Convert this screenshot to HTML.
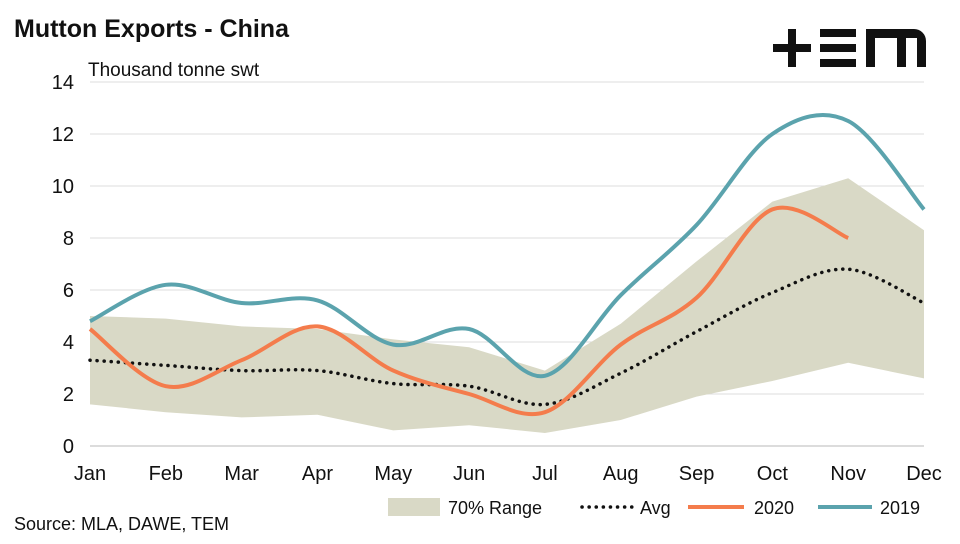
<!DOCTYPE html>
<html><head><meta charset="utf-8"><style>
body{margin:0;background:#fff;font-family:"Liberation Sans",sans-serif;}
svg text{font-family:"Liberation Sans",sans-serif;}
</style></head><body>
<svg id="c" width="960" height="539">
<text x="14" y="37" font-size="25" font-weight="bold" fill="#111">Mutton Exports - China</text>
<text x="88" y="76" font-size="19" fill="#111">Thousand tonne swt</text>
<g fill="#111">
<rect x="773" y="44" width="38" height="8"/><rect x="788" y="29" width="8" height="38"/>
<rect x="820" y="29" width="36" height="8"/><rect x="820" y="44" width="36" height="8"/><rect x="820" y="59" width="36" height="8"/>
<path d="M866 67V29h48a12 12 0 0 1 12 12v26h-9V38h-11v29h-9V38h-22v29z"/>
</g>
<g id="grid"></g><g id="marks"></g><g id="axes"></g>
<g font-size="18" fill="#111">
<rect x="388" y="498" width="52" height="18" fill="#d9d9c6"/>
<text x="448" y="514">70% Range</text>
<line x1="582" y1="507" x2="636" y2="507" stroke="#111" stroke-width="3.5" stroke-dasharray="0.1 7" stroke-linecap="round"/>
<text x="640" y="514">Avg</text>
<line x1="688" y1="507" x2="744" y2="507" stroke="#f47c4c" stroke-width="4"/>
<text x="754" y="514">2020</text>
<line x1="818" y1="507" x2="872" y2="507" stroke="#5ba3ad" stroke-width="4"/>
<text x="880" y="514">2019</text>
</g>
<text x="14" y="530" font-size="18" fill="#111">Source: MLA, DAWE, TEM</text>
</svg>
<script>
const months=["Jan","Feb","Mar","Apr","May","Jun","Jul","Aug","Sep","Oct","Nov","Dec"];
const yTicks=[0,2,4,6,8,10,12,14];
const rangeHigh=[5.0,4.9,4.6,4.5,4.1,3.8,2.9,4.7,7.1,9.4,10.3,8.3];
const rangeLow=[1.6,1.3,1.1,1.2,0.6,0.8,0.5,1.0,1.9,2.5,3.2,2.6];
const avg=[3.3,3.1,2.9,2.9,2.4,2.3,1.6,2.8,4.4,5.9,6.8,5.5];
const s2020=[4.5,2.3,3.3,4.6,2.9,2.0,1.3,3.9,5.7,9.1,8.0];
const s2019=[4.8,6.2,5.5,5.6,3.9,4.5,2.7,5.8,8.5,12.0,12.5,9.1];
const X0=90,X1=924,Y0=446,Y1=82;
const x=i=>X0+i*(X1-X0)/11;
const y=v=>Y0-v*(Y0-Y1)/14;
const NS="http://www.w3.org/2000/svg";
function mk(tag,attrs,parent){const e=document.createElementNS(NS,tag);for(const k in attrs)e.setAttribute(k,attrs[k]);parent.appendChild(e);return e;}
const grid=document.getElementById('grid'),marks=document.getElementById('marks'),axes=document.getElementById('axes');
yTicks.forEach(t=>{
 if(t>0){const l=mk('line',{x1:X0,x2:X1,y1:y(t),y2:y(t),stroke:'#dcdcdc','stroke-width':1},grid);
 
 }
 const tx=mk('text',{x:74,y:y(t)+7,'font-size':20,fill:'#111','text-anchor':'end'},axes);tx.textContent=t;
 
 
});
const ax=mk('line',{x1:X0,x2:X1,y1:Y0,y2:Y0,stroke:'#dcdcdc','stroke-width':2},axes);


months.forEach((m,i)=>{const tx=mk('text',{x:x(i),y:480,'font-size':20,fill:'#111','text-anchor':'middle'},axes);tx.textContent=m;
 
 });
let d=rangeHigh.map((v,i)=>(i?'L':'M')+x(i)+' '+y(v)).join('')+rangeLow.map((v,i)=>'L'+x(i)+' '+y(v)).reverse().join('')+'Z';
const area=mk('path',{d:d,fill:'#d9d9c6'},marks);


function smooth(a){const p=a.map((v,i)=>[x(i),y(v)]);let s='M'+p[0][0]+' '+p[0][1];
 for(let i=0;i<p.length-1;i++){const p0=p[i-1]||p[i],p1=p[i],p2=p[i+1],p3=p[i+2]||p2;
 s+=`C${p1[0]+(p2[0]-p0[0])/6} ${p1[1]+(p2[1]-p0[1])/6} ${p2[0]-(p3[0]-p1[0])/6} ${p2[1]-(p3[1]-p1[1])/6} ${p2[0]} ${p2[1]}`;}return s;}
const a=mk('path',{d:smooth(avg),fill:'none',stroke:'#111','stroke-width':3.5,'stroke-dasharray':'0.1 7','stroke-linecap':'round'},marks);


const l20=mk('path',{d:smooth(s2020),fill:'none',stroke:'#f47c4c','stroke-width':4},marks);


const l19=mk('path',{d:smooth(s2019),fill:'none',stroke:'#5ba3ad','stroke-width':4},marks);


</script>
</body></html>
